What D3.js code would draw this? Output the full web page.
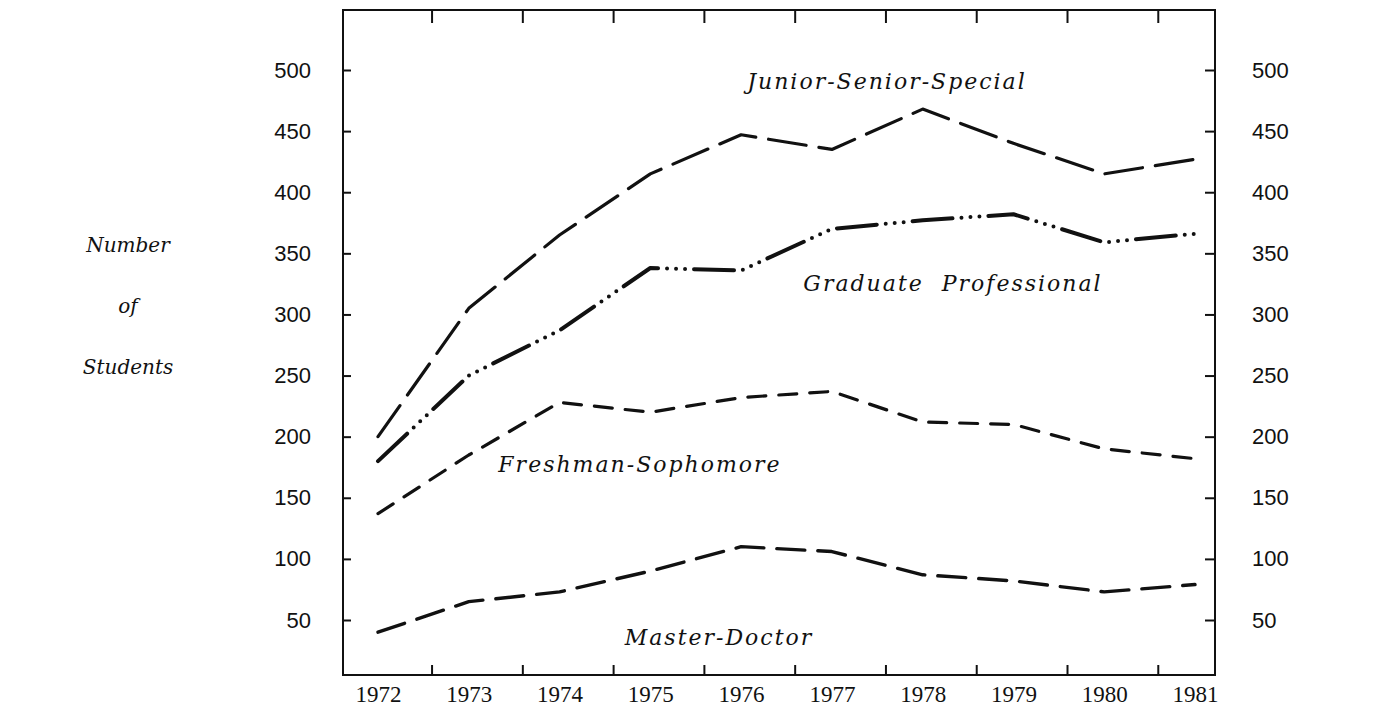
<!DOCTYPE html>
<html>
<head>
<meta charset="utf-8">
<script src="https://cdn.jsdelivr.net/npm/d3@7"></script>
<style>
  body { margin: 0; background: #fff; }
  text { fill: #111; }
</style>
</head>
<body>
<div id="chart"></div>
<script>
// Data
const years = [1972, 1973, 1974, 1975, 1976, 1977, 1978, 1979, 1980, 1981]
const juniorSeniorSpecial = [200, 305, 365, 415, 447, 435, 468, 440, 415, 427]
const graduateProfessional = [180, 250, 287, 338, 336, 370, 377, 382, 359, 366]
const freshmanSophomore = [137, 185, 228, 220, 232, 237, 212, 210, 190, 182]
const masterDoctor = [40, 65, 73, 90, 110, 106, 87, 82, 73, 79]
const yTicks = [50, 100, 150, 200, 250, 300, 350, 400, 450, 500]
const seriesNames = ["Junior-Senior-Special", "Graduate  Professional", "Freshman-Sophomore", "Master-Doctor"]
const yTitle = ["Number", "of", "Students"]

function drawChart(container) {
    const WIDTH = 1383
    const HEIGHT = 714
    const PLOT = {LEFT:343, RIGHT:1215, TOP:10, BOTTOM:675}
    const Y_FONT = "'Liberation Sans Narrow', 'Liberation Sans', sans-serif"
    const X_FONT = "'Liberation Serif', serif"
    const LABEL_FONT = "'DejaVu Serif', serif"

    let svg = d3.select(container).append("svg")
        .attr("width", WIDTH)
        .attr("height", HEIGHT)

    // scales: year labels sit on the year, ticks fall between them
    let xScale = d3.scaleLinear()
        .domain([1972, 1981])
        .range([378, 1195])

    let yScale = d3.scaleLinear()
        .domain([50, 500])
        .range([620, 70])

    const tickYears = years.slice(0, 9).map(y => y + 0.59)

    // frame
    svg.append("rect")
        .attr("x", PLOT.LEFT)
        .attr("y", PLOT.TOP)
        .attr("width", PLOT.RIGHT - PLOT.LEFT)
        .attr("height", PLOT.BOTTOM - PLOT.TOP)
        .attr("fill", "none")
        .attr("stroke", "#111")
        .attr("stroke-width", 2)

    // left axis
    let left = svg.append("g")
        .attr("transform", "translate(" + PLOT.LEFT + ",0)")
        .call(d3.axisLeft(yScale).tickValues(yTicks).tickSize(-8).tickPadding(32))
    // right axis
    let right = svg.append("g")
        .attr("transform", "translate(" + PLOT.RIGHT + ",0)")
        .call(d3.axisRight(yScale).tickValues(yTicks).tickSize(-10).tickPadding(37))
    // bottom labels
    let bottomLabels = svg.append("g")
        .attr("transform", "translate(0," + PLOT.BOTTOM + ")")
        .call(d3.axisBottom(xScale).tickValues(years).tickFormat(d3.format("d")).tickSize(0).tickPadding(11))
    // bottom and top ticks
    let bottomTicks = svg.append("g")
        .attr("transform", "translate(0," + PLOT.BOTTOM + ")")
        .call(d3.axisBottom(xScale).tickValues(tickYears).tickFormat("").tickSize(-10))
    let topTicks = svg.append("g")
        .attr("transform", "translate(0," + PLOT.TOP + ")")
        .call(d3.axisTop(xScale).tickValues(tickYears).tickFormat("").tickSize(-13))

    for (let g of [left, right, bottomLabels, bottomTicks, topTicks]) {
        g.select(".domain").remove()
        g.selectAll(".tick line").attr("stroke", "#111").attr("stroke-width", 2)
        g.selectAll("text").attr("fill", "#111")
    }
    left.selectAll("text").style("font-family", Y_FONT).style("font-size", "22px")
    right.selectAll("text").style("font-family", Y_FONT).style("font-size", "22px")
    bottomLabels.selectAll("text").style("font-family", X_FONT).style("font-size", "23px")

    // lines
    const series = [
        {values: juniorSeniorSpecial, dash: "38,13", width: 3.2},
        {values: graduateProfessional, dash: "40,9,0,9,0,9,0,9", width: 4},
        {values: freshmanSophomore, dash: "18,13", width: 3.2},
        {values: masterDoctor, dash: "28,13", width: 3.4}
    ]

    let line = d3.line()
        .x((d, i) => xScale(years[i]))
        .y(d => yScale(d))

    svg.selectAll("path.series")
        .data(series)
        .enter()
        .append("path")
            .attr("class", "series")
            .attr("d", d => line(d.values))
            .attr("fill", "none")
            .attr("stroke", "#111")
            .attr("stroke-width", d => d.width)
            .attr("stroke-dasharray", d => d.dash)
            .attr("stroke-linecap", "round")
            .attr("stroke-linejoin", "round")

    // series labels
    const labelPos = [[887, 89], [953, 291], [640, 472], [719, 645]]
    svg.selectAll("text.series-label")
        .data(seriesNames)
        .enter()
        .append("text")
            .attr("class", "series-label")
            .attr("x", (d, i) => labelPos[i][0])
            .attr("y", (d, i) => labelPos[i][1])
            .attr("text-anchor", "middle")
            .style("font-family", LABEL_FONT)
            .style("font-style", "italic")
            .style("font-size", "22px")
            .style("letter-spacing", "2px")
            .style("white-space", "pre")
            .text(d => d)

    // y title
    svg.selectAll("text.ytitle")
        .data(yTitle)
        .enter()
        .append("text")
            .attr("class", "ytitle")
            .attr("x", 128)
            .attr("y", (d, i) => 252 + i * 61)
            .attr("text-anchor", "middle")
            .style("font-family", LABEL_FONT)
            .style("font-style", "italic")
            .style("font-size", "20px")
            .text(d => d)
}

drawChart("#chart")
</script>
</body>
</html>
